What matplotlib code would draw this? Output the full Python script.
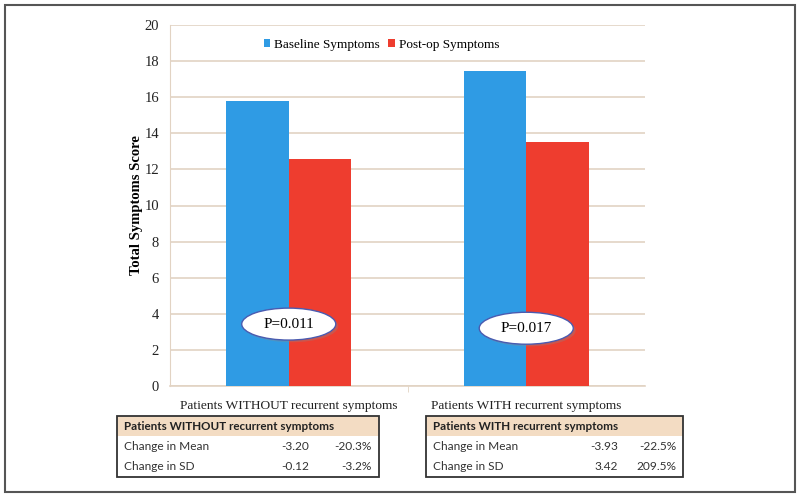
import matplotlib
matplotlib.use('Agg')
import matplotlib.pyplot as plt
from matplotlib.patches import Rectangle, Ellipse
import numpy as np

# data
groups = ['Patients WITHOUT recurrent symptoms', 'Patients WITH recurrent symptoms']
baseline = [15.8, 17.45]
postop = [12.6, 13.52]
p_values = ['P=0.011', 'P=0.017']

table_titles = ['Patients WITHOUT recurrent symptoms', 'Patients WITH recurrent symptoms']
row_names = ['Change in Mean', 'Change in SD']
change_abs = [['-3.20', '-0.12'], ['-3.93', '3.42']]
change_pct = [['-20.3%', '-3.2%'], ['-22.5%', '209.5%']]

blue = '#2f9be4'
red = '#ee3d2f'
grid_col = '#e2d3c3'
serif = 'Liberation Serif'
sans = 'Lato'

W, H = 800, 497
fig = plt.figure(figsize=(W / 100, H / 100), dpi=100)


def fx(px):
    return px / W


def fy(py):
    return 1 - py / H


# outer frame
fig.add_artist(Rectangle((fx(5), fy(492)), fx(790), (492 - 5) / H, transform=fig.transFigure,
                         fill=False, edgecolor='#555555', linewidth=1.5))

ax = fig.add_axes([fx(170), fy(386), fx(645) - fx(170), fy(25) - fy(386)])
x = np.arange(len(groups))
bw = 0.263
ax.bar(x - bw / 2, baseline, bw, color=blue, label='Baseline Symptoms', zorder=3)
ax.bar(x + bw / 2, postop, bw, color=red, label='Post-op Symptoms', zorder=3)

ax.set_xlim(-0.5, 1.5)
ax.set_ylim(0, 20)
ax.set_yticks(np.arange(0, 21, 2))
ax.yaxis.grid(True, color=grid_col, linewidth=1.2, zorder=0)
ax.set_xticks([0.5], minor=True)
ax.set_xticks(x)
ax.set_xticklabels(groups, fontfamily=serif, fontsize=9.6, color='#222222')
ax.tick_params(axis='x', which='major', length=0, pad=10)
ax.tick_params(axis='x', which='minor', length=4, color=grid_col)
ax.tick_params(axis='y', length=0, pad=8, labelsize=10.5, labelcolor='#222222')
for lab in ax.get_yticklabels():
    lab.set_fontfamily(serif)
for s in ['top', 'right']:
    ax.spines[s].set_visible(False)
ax.spines['left'].set_color(grid_col)
ax.spines['bottom'].set_color(grid_col)
ax.spines['bottom'].set_linewidth(1.2)
ax.set_ylabel('Total Symptoms Score', fontfamily=serif, fontweight='bold', fontsize=10.5, labelpad=1)

leg = ax.legend(loc='upper center', bbox_to_anchor=(0.445, 0.995), ncol=2, frameon=False,
                prop={'family': serif, 'size': 9.5}, handlelength=0.5, handleheight=0.5,
                handletextpad=0.3, columnspacing=0.6)

# p-value ellipses
ell_x = [0.0, 1.0]
ell_y = [3.43, 3.2]
for xi, yi, pv in zip(ell_x, ell_y, p_values):
    ax.add_patch(Ellipse((xi + 0.01, yi - 0.12), 0.396, 1.77, facecolor='#888888', alpha=0.35,
                         edgecolor='none', zorder=4))
    ax.add_patch(Ellipse((xi, yi), 0.396, 1.77, facecolor='white', edgecolor='#4a5bb0',
                         linewidth=1.0, zorder=5))
    ax.text(xi, yi, pv, ha='center', va='center', fontfamily=serif, fontsize=11, zorder=6)

# tables under the chart
tab_left = [117, 426]
tab_right = [379, 683]
top, row_h = 416, 20.3
for k in range(2):
    l, r = tab_left[k], tab_right[k]
    fig.add_artist(Rectangle((fx(l), fy(top + row_h)), fx(r - l), row_h / H, transform=fig.transFigure,
                             facecolor='#f3dcc3', edgecolor='none'))
    fig.add_artist(Rectangle((fx(l), fy(top + 3 * row_h)), fx(r - l), 3 * row_h / H,
                             transform=fig.transFigure, fill=False, edgecolor='#333333', linewidth=1.3))
    fig.text(fx(l + 7), fy(top + row_h / 2), table_titles[k], fontfamily=sans, fontweight='bold',
             fontsize=8.4, va='center', ha='left', color='#222222')
    for i in range(2):
        yc = fy(top + row_h * (i + 1.5))
        fig.text(fx(l + 7), yc, row_names[i], fontfamily=sans, fontsize=8.6, va='center', color='#333333')
        fig.text(fx(l + 192), yc, change_abs[k][i], fontfamily=sans, fontsize=8.6, va='center',
                 ha='right', color='#333333')
        fig.text(fx(r - 7), yc, change_pct[k][i], fontfamily=sans, fontsize=8.6, va='center',
                 ha='right', color='#333333')

fig.savefig('out.png', dpi=100)
